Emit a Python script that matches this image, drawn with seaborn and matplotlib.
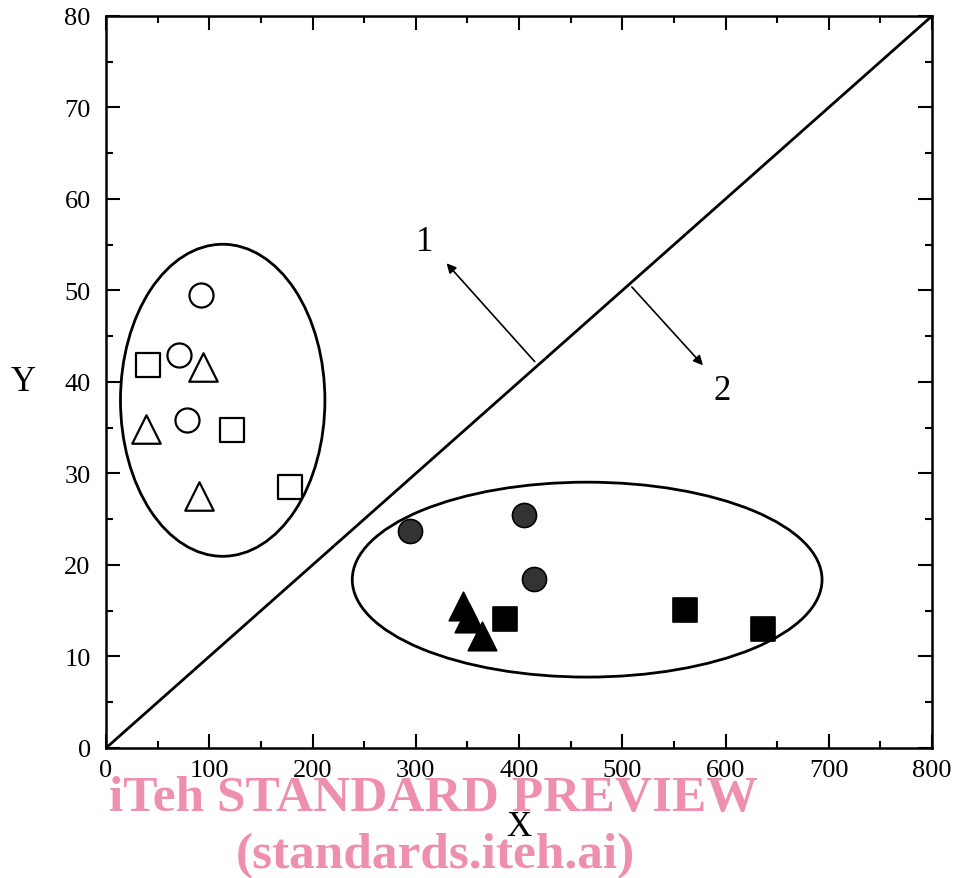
import matplotlib
matplotlib.use("Agg")
import matplotlib.pyplot as plt
from matplotlib.patches import Ellipse
from matplotlib.ticker import MultipleLocator
import pandas as pd
import seaborn as sns

# Open markers (region 1)
open_circle_x = [92, 71, 78]
open_circle_y = [49.5, 43.0, 35.8]
open_square_x = [41, 122, 178]
open_square_y = [41.9, 34.8, 28.5]
open_tri_x = [94, 39, 90]
open_tri_y = [41.6, 34.9, 27.5]

# Filled markers (region 2)
fill_circle_x = [294, 405, 415]
fill_circle_y = [23.7, 25.5, 18.5]
fill_tri_x = [346, 352, 364]
fill_tri_y = [15.5, 14.2, 12.2]
fill_square_x = [386, 561, 636]
fill_square_y = [14.1, 15.1, 13.0]

# Boundary line and region ellipses (center x, center y, width, height)
line_x = [0, 800]
line_y = [0, 80]
ellipse_1 = (113, 38.0, 198, 34.1)
ellipse_2 = (466, 18.4, 455, 21.3)

sns.set_style("ticks", {"axes.edgecolor": "black", "text.color": "black",
                        "xtick.color": "black", "ytick.color": "black",
                        "axes.labelcolor": "black"})
plt.rcParams["font.family"] = ["Liberation Serif", "DejaVu Serif"]

fig = plt.figure(figsize=(9.56, 8.79), dpi=100)
ax = fig.add_axes([0.1109, 0.1479, 0.864, 0.8328])

sns.lineplot(x=line_x, y=line_y, ax=ax, color="black", linewidth=2.0)

for cx, cy, w, h in (ellipse_1, ellipse_2):
    ax.add_patch(Ellipse((cx, cy), w, h, fill=False, edgecolor="black", linewidth=2.0))

open_sets = [
    (open_circle_x, open_circle_y, "o", 300),
    (open_square_x, open_square_y, "s", 300),
    (open_tri_x, open_tri_y, "^", 420),
]
for xs, ys, mk, sz in open_sets:
    df = pd.DataFrame({"x": xs, "y": ys})
    sns.scatterplot(data=df, x="x", y="y", ax=ax, marker=mk, s=sz,
                    facecolor="white", edgecolor="black", linewidth=1.6, zorder=3)

fill_sets = [
    (fill_circle_x, fill_circle_y, "o", 300, "#333333"),
    (fill_tri_x, fill_tri_y, "^", 420, "black"),
    (fill_square_x, fill_square_y, "s", 300, "black"),
]
for xs, ys, mk, sz, fc in fill_sets:
    df = pd.DataFrame({"x": xs, "y": ys})
    sns.scatterplot(data=df, x="x", y="y", ax=ax, marker=mk, s=sz,
                    facecolor=fc, edgecolor="black", linewidth=1.2, zorder=3)

# Normal arrows pointing to regions
ax.annotate("", xy=(328, 53.2), xytext=(417, 42.0),
            arrowprops=dict(arrowstyle="-|>", color="black", lw=1.2, mutation_scale=14))
ax.annotate("", xy=(580, 41.6), xytext=(507.5, 50.6),
            arrowprops=dict(arrowstyle="-|>", color="black", lw=1.2, mutation_scale=14))
ax.text(309, 55.3, "1", fontsize=25, ha="center", va="center", color="black")
ax.text(597, 39.1, "2", fontsize=25, ha="center", va="center", color="black")

ax.set_xlim(0, 800)
ax.set_ylim(0, 80)
ax.xaxis.set_major_locator(MultipleLocator(100))
ax.xaxis.set_minor_locator(MultipleLocator(50))
ax.yaxis.set_major_locator(MultipleLocator(10))
ax.yaxis.set_minor_locator(MultipleLocator(5))
ax.tick_params(which="both", direction="in", top=True, right=True, width=1.5,
               labelsize=19, colors="black")
ax.tick_params(which="major", length=10)
ax.tick_params(which="minor", length=5)
ax.tick_params(axis="x", pad=8)
ax.tick_params(axis="y", pad=11)
for sp in ax.spines.values():
    sp.set_linewidth(1.8)
    sp.set_color("black")

ax.set_xlabel("X", fontsize=25, labelpad=21, color="black")
ax.set_ylabel("Y", fontsize=25, rotation=0, labelpad=30, va="center", color="black")

fig.text(433 / 956, 1 - 799 / 879, "iTeh STANDARD PREVIEW", color="#ef8fae",
         fontsize=37, fontweight="bold", ha="center", va="center")
fig.text(435 / 956, 1 - 856 / 879, "(standards.iteh.ai)", color="#ef8fae",
         fontsize=37, fontweight="bold", ha="center", va="center")

fig.savefig("out.png", dpi=100)
